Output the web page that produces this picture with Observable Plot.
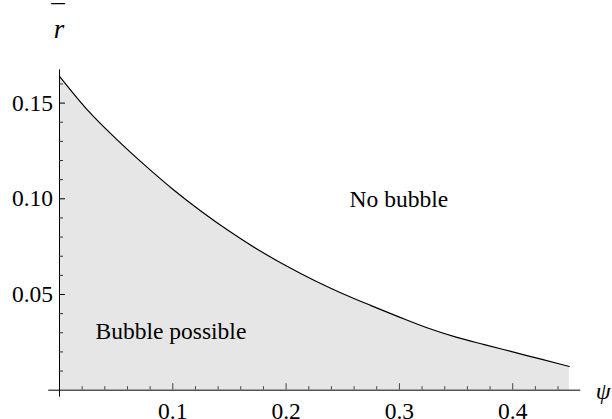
<!DOCTYPE html>
<html>
<head>
<meta charset="utf-8">
<script src="https://cdn.jsdelivr.net/npm/d3@7"></script>
<script src="https://cdn.jsdelivr.net/npm/@observablehq/plot@0.6"></script>
<style>
  html, body { margin: 0; padding: 0; background: white; }
</style>
</head>
<body>
<div id="chart"></div>
<script>
// Boundary curve r̄(ψ)
const psi  = [0, 0.025, 0.05, 0.075, 0.1, 0.125, 0.15, 0.175, 0.2, 0.225, 0.25, 0.275, 0.3, 0.325, 0.35, 0.375, 0.4, 0.425, 0.45];
const rbar = [0.164, 0.1462, 0.1313, 0.1177, 0.105, 0.0935, 0.083, 0.0735, 0.065, 0.0573, 0.0504, 0.0442, 0.0382, 0.0325, 0.0277, 0.0238, 0.02, 0.0162, 0.0124];

// Tick values and labels
const xMajor = [0.1, 0.2, 0.3, 0.4];
const xMinor = [0.02, 0.04, 0.06, 0.08, 0.12, 0.14, 0.16, 0.18, 0.22, 0.24, 0.26, 0.28, 0.32, 0.34, 0.36, 0.38, 0.42, 0.44];
const xLabels = ["0.1", "0.2", "0.3", "0.4"];
const yMajor = [0.05, 0.10, 0.15];
const yMinor = [0.01, 0.02, 0.03, 0.04, 0.06, 0.07, 0.08, 0.09, 0.11, 0.12, 0.13, 0.14, 0.16];
const yLabels = ["0.05", "0.10", "0.15"];

// Region labels
const regionLabels = ["No bubble", "Bubble possible"];

const curve = psi.map((p, i) => ({psi: p, r: rbar[i]}));
const F = "Liberation Serif";

const plot = Plot.plot({
  width: 612,
  height: 419,
  marginLeft: 59,
  marginRight: 31.8,
  marginTop: 69.3,
  marginBottom: 29.3,
  x: {domain: [0, 0.46], axis: null},
  y: {domain: [0, 0.1674], axis: null},
  marks: [
    Plot.areaY(curve, {x: "psi", y: "r", fill: "#e6e6e6", curve: "monotone-x"}),
    Plot.lineY(curve, {x: "psi", y: "r", stroke: "black", strokeWidth: 1.2, curve: "monotone-x"}),
    Plot.ruleY([0], {x1: -0.0095, x2: 0.46, stroke: "#555", strokeWidth: 1.4}),
    Plot.ruleX([0], {y1: -0.0036, y2: 0.1674, stroke: "black", strokeWidth: 1}),
    Plot.axisX(xMajor, {tickSize: -6.5, fill: "none", stroke: "#444", label: null}),
    Plot.axisX(xMinor, {tickSize: -3.5, fill: "none", stroke: "#444", label: null}),
    Plot.axisY(yMajor, {tickSize: -6, fill: "none", stroke: "black", label: null}),
    Plot.axisY(yMinor, {tickSize: -4, fill: "none", stroke: "#333", label: null}),
    Plot.text(xMajor, {x: d => d, y: 0, text: (d, i) => xLabels[i], dy: 28.5, lineAnchor: "bottom", fill: "black", fontFamily: F, fontSize: 23.5}),
    Plot.text(yMajor, {x: 0, y: d => d, text: (d, i) => yLabels[i], dx: -6.5, textAnchor: "end", lineAnchor: "middle", fill: "black", fontFamily: F, fontSize: 23.5}),
    Plot.text(["r"], {x: 0, y: 0.1674, dx: -0.5, dy: -32, lineAnchor: "bottom", fontStyle: "italic", fontSize: 27, fill: "black", fontFamily: F}),
    Plot.text(["\u00AF"], {x: 0, y: 0.1674, dx: -1.5, dy: -46, lineAnchor: "bottom", fontSize: 27, fill: "black", fontFamily: F}),
    Plot.text(["\u03C8"], {x: 0.46, y: 0, dx: 15, dy: 9, textAnchor: "start", lineAnchor: "bottom", fontStyle: "italic", fontSize: 24, fill: "black", fontFamily: F}),
    Plot.text([regionLabels[0]], {x: 0.256, y: 0.0956, textAnchor: "start", lineAnchor: "bottom", fill: "black", fontFamily: F, fontSize: 23.5}),
    Plot.text([regionLabels[1]], {x: 0.0318, y: 0.0265, textAnchor: "start", lineAnchor: "bottom", fill: "black", fontFamily: F, fontSize: 23.5})
  ]
});
document.getElementById("chart").appendChild(plot);
</script>
</body>
</html>
